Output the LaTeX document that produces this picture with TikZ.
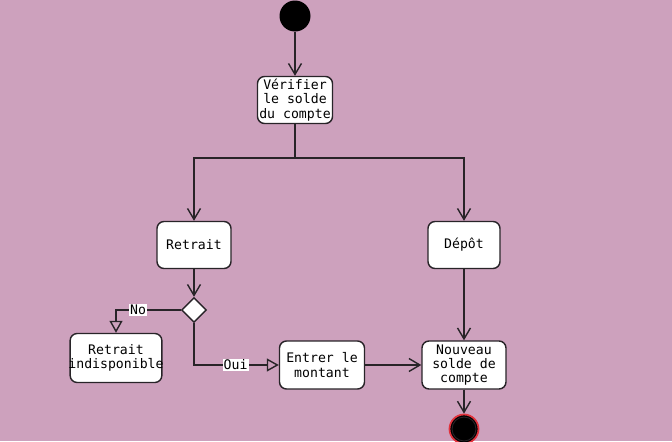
\documentclass[tikz,border=0pt]{standalone}
\usepackage{fontspec}
\setmonofont{DejaVu Sans Mono}
\usetikzlibrary{arrows.meta,positioning,shapes.geometric}

\definecolor{bgpink}{RGB}{205,161,189}
\definecolor{ink}{RGB}{40,36,40}
\definecolor{ringred}{RGB}{225,50,60}

\begin{document}
\begin{tikzpicture}[>={Straight Barb[length=2.2mm,width=2.6mm]},
    act/.style={draw=ink,fill=white,rounded corners=4pt,line width=0.8pt,
        align=center,font=\ttfamily\fontsize{7.5}{8.1}\selectfont,inner sep=0.5pt},
    choice/.style={diamond,draw=ink,fill=white,line width=0.8pt,
        inner sep=0pt,minimum width=0.5cm,minimum height=0.5cm},
    lbl/.style={fill=white,inner sep=0.6pt,font=\ttfamily\fontsize{7.5}{8.1}\selectfont},
    flow/.style={->,draw=ink,line width=0.8pt},
    branch/.style={-{Triangle[open,length=2.4mm,width=2.6mm]},draw=ink,line width=0.8pt}]

    % background / frame
    \fill[bgpink] (0,0) rectangle (13.44,8.82);
    \useasboundingbox (0,0) rectangle (13.44,8.82);

    % start
    \fill[black] (5.90,8.50) circle (0.31);
    \coordinate (start) at (5.90,8.19);

    % activities
    \node[act,minimum width=1.5cm,minimum height=0.94cm] (verif) at (5.90,6.82) {Vérifier\\le solde\\du compte};
    \coordinate (split) at (5.90,5.66);
    \node[act,minimum width=1.48cm,minimum height=0.94cm] (retrait) at (3.88,3.92) {Retrait};
    \node[act,minimum width=1.44cm,minimum height=0.94cm] (depot) at (9.28,3.92) {Dépôt};
    \node[choice] (dec) at (3.88,2.62) {};
    \node[act,minimum width=1.68cm,minimum height=0.98cm,inner xsep=-1pt] (retind) at (2.32,1.66) {Retrait\\indisponible};
    \node[act,minimum width=1.70cm,minimum height=0.96cm] (entrer) at (6.44,1.52) {Entrer le\\montant};
    \node[act,minimum width=1.68cm,minimum height=0.96cm] (nouveau) at (9.28,1.52) {Nouveau\\solde de\\compte};

    % end
    \node[circle,draw=ringred,line width=1pt,fill=black,minimum size=0.58cm,inner sep=0pt] (fin) at (9.28,0.24) {};
    \draw[ink,line width=0.5pt] (fin) circle (0.24);

    % flows
    \draw[flow] (start) -- (verif);
    \draw[draw=ink,line width=0.8pt] (verif) -- (split);
    \draw[flow] (split) -| (retrait);
    \draw[flow] (split) -| (depot);
    \draw[flow] (retrait) -- (dec);
    \draw[branch] (dec.west) -| node[lbl,pos=0.33] {No} (retind.north);
    \draw[branch] (dec.south) |- node[lbl,pos=0.745] {Oui} (entrer.west);
    \draw[flow] (entrer) -- (nouveau);
    \draw[flow] (depot) -- (nouveau);
    \draw[flow] (nouveau) -- (fin);
\end{tikzpicture}
\end{document}
